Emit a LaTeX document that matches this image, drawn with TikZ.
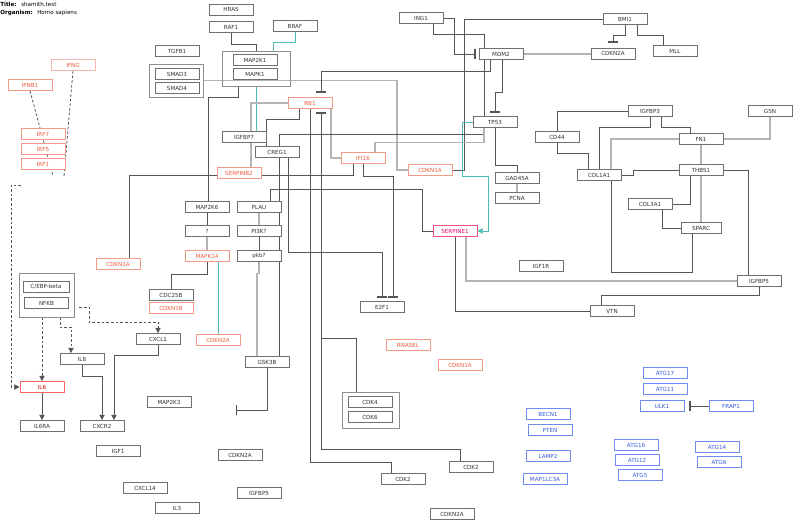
\documentclass[tikz,border=0pt]{standalone}
\usepackage{fontspec}
\setmainfont{DejaVu Sans}
\usetikzlibrary{arrows.meta,calc}
\definecolor{bx}{HTML}{707070}
\definecolor{tx}{HTML}{333333}
\definecolor{rb}{HTML}{F29A88}
\definecolor{rt}{HTML}{EE5C3E}
\definecolor{bb}{HTML}{6F8CF0}
\definecolor{bt}{HTML}{3A5AE0}
\definecolor{dkl}{HTML}{555555}
\definecolor{ltl}{HTML}{B4B4B4}
\definecolor{tl}{HTML}{4DBDB8}
\newcommand{\fsz}{\fontsize{4.2}{5}\selectfont}
\pgfdeclarelayer{back}
\pgfdeclarelayer{bg}
\pgfsetlayers{back,bg,main}
\begin{document}
\begin{tikzpicture}[x=0.75pt,y=-0.75pt,
 nb/.style={draw=bx,fill=white,text=tx,minimum width=33pt,minimum height=8.25pt,inner sep=0pt,font=\fsz,line width=0.6pt},
 nr/.style={nb,draw=rb,text=rt},
 nbl/.style={nb,draw=bb,text=bt},
 grp/.style={draw=bx!80,line width=0.6pt,inner sep=0pt},
 dk/.style={draw=dkl,line width=0.6pt},
 lt/.style={draw=ltl,line width=0.8pt},
 tq/.style={draw=tl,line width=0.7pt},
 dsh/.style={draw=dkl,dash pattern=on 2pt off 1.5pt,line width=0.6pt},
 inh/.style={-{Bar[width=8pt,line width=1pt]}},
 act/.style={-{Triangle[length=4pt,width=4pt]}},
 lbl/.style={inner sep=0pt,font=\fsz,anchor=base west}
]
\begin{pgfonlayer}{back}
\fill[white] (0,0) rectangle (800,528);
\end{pgfonlayer}
\useasboundingbox (0,0) rectangle (800,528);

% title
\node[lbl] (tA) at (0,7) {\bfseries Title:};
\node[lbl] (tB) at (21,7) {shamith.test};
\node[lbl] (tC) at (0,15) {\bfseries Organism:};
\node[lbl] (tD) at (37,15) {Homo sapiens};

% groups
\node[grp,minimum width=51pt,minimum height=26.25pt] (mapgrp) at (256,68.5) {};
\node[grp,minimum width=40.5pt,minimum height=24.75pt] (smadgrp) at (176,80.5) {};
\node[grp,minimum width=41.25pt,minimum height=33pt] (cebpgrp) at (46.5,295) {};
\node[grp,minimum width=42.75pt,minimum height=27pt] (cdkgrp) at (370.5,410) {};

% black nodes
\node[nb] (hras) at (231,9.5) {HRAS};
\node[nb] (rafone) at (231,27) {RAF1};
\node[nb] (braf) at (295,26) {BRAF};
\node[nb] (maptwokone) at (255,60) {MAP2K1};
\node[nb] (mapkone) at (255,74) {MAPK1};
\node[nb] (tgfb) at (177,51) {TGFB1};
\node[nb] (smadthree) at (177,74) {SMAD3};
\node[nb] (smadfour) at (177,88) {SMAD4};
\node[nb] (igfbpseven) at (244,137) {IGFBP7};
\node[nb] (cregone) at (277,152) {CREG1};
\node[nb] (ingone) at (421,18) {ING1};
\node[nb] (mdmtwo) at (501,54) {MDM2};
\node[nb] (tpff) at (495,122) {TP53};
\node[nb] (bmione) at (625,19) {BMI1};
\node[nb] (cdkntwoaA) at (613,53.5) {CDKN2A};
\node[nb] (mll) at (675,51) {MLL};
\node[nb] (cdff) at (557,137) {CD44};
\node[nb] (igfbpthree) at (650,111) {IGFBP3};
\node[nb] (gsn) at (770,111) {GSN};
\node[nb] (fnone) at (701,139) {FN1};
\node[nb] (colonea) at (599,175) {COL1A1};
\node[nb] (thbs) at (701,170) {THBS1};
\node[nb] (gadd) at (517,178) {GAD45A};
\node[nb] (pcna) at (517,198) {PCNA};
\node[nb] (colthree) at (650,204) {COL3A1};
\node[nb,minimum width=30pt] (sparc) at (701,228) {SPARC};
\node[nb] (igfonerA) at (541,266) {IGF1R};
\node[nb] (igfbpfiveA) at (759,281) {IGFBP5};
\node[nb] (vtn) at (612,311) {VTN};
\node[nb] (maptwoksix) at (207,207) {MAP2K6};
\node[nb] (qq) at (207,231) {?};
\node[nb] (plau) at (259,207) {PLAU};
\node[nb] (pithreek) at (259,231) {PI3K?};
\node[nb] (pkb) at (259,256) {pkb?};
\node[nb,minimum width=34.5pt] (cebp) at (46,287) {C/EBP-beta};
\node[nb] (nfkb) at (46.5,303) {NFKB};
\node[nb] (cdctwofive) at (171,295) {CDC25B};
\node[nb] (cxclone) at (158,339) {CXCL1};
\node[nb] (etwofone) at (382,307) {E2F1};
\node[nb] (ileight) at (82,359) {IL8};
\node[nb] (ilsixra) at (42,426) {IL6RA};
\node[nb] (cxcrtwo) at (102,426) {CXCR2};
\node[nb] (maptwokthree) at (169,402) {MAP2K3};
\node[nb] (gskthreeb) at (267,362) {GSK3B};
\node[nb] (igfone) at (118,451) {IGF1};
\node[nb] (cdkntwoaB) at (240,455) {CDKN2A};
\node[nb] (cxclff) at (145,488) {CXCL14};
\node[nb] (igfbpfiveB) at (259,493) {IGFBP5};
\node[nb] (ilthree) at (177,508) {IL3};
\node[nb] (cdkfour) at (370,402) {CDK4};
\node[nb] (cdksix) at (370,417) {CDK6};
\node[nb] (cdktwoA) at (471,467) {CDK2};
\node[nb] (cdktwoB) at (403,479) {CDK2};
\node[nb] (cdkntwoaC) at (452,514) {CDKN2A};

% red nodes
\node[nr,draw=rb!70] (ifng) at (73,65) {IFNG};
\node[nr] (ifnbone) at (30,85) {IFNB1};
\node[nr] (irfseven) at (43,134) {IRF7};
\node[nr] (irffive) at (43,149) {IRF5};
\node[nr] (irfone) at (43,164) {IRF1};
\node[nr] (rbone) at (310,103) {RB1};
\node[nr] (serpinbtwo) at (239,173) {SERPINB2};
\node[nr] (ifisixteen) at (363,158) {IFI16};
\node[nr] (cdknoneaA) at (430,170) {CDKN1A};
\node[nr] (cdknoneaB) at (118,264) {CDKN1A};
\node[nr] (mapkff) at (207,256) {MAPK14};
\node[nr] (cdknoneb) at (171,308) {CDKN1B};
\node[nr] (cdkntwoaR) at (218,340) {CDKN2A};
\node[nr] (rnasel) at (408,345) {RNASEL};
\node[nr] (cdknoneaC) at (460,365) {CDKN1A};
\node[nr,draw=red!60,text=red!85!black] (ilsix) at (42,387) {IL6};
\node[nr,draw=magenta!60!red!70,text=magenta!70!red] (serpineone) at (455,231) {SERPINE1};

% blue nodes
\node[nbl] (atgseventeen) at (665,373) {ATG17};
\node[nbl] (atgeleven) at (665,389) {ATG11};
\node[nbl] (ulkone) at (662,406) {ULK1};
\node[nbl] (frapone) at (731,406) {FRAP1};
\node[nbl] (becnone) at (548,414) {BECN1};
\node[nbl] (pten) at (550,430) {PTEN};
\node[nbl] (lamptwo) at (548,456) {LAMP2};
\node[nbl] (maponelc) at (545,479) {MAP1LC3A};
\node[nbl] (atgsixteen) at (636,445) {ATG16};
\node[nbl] (atgtwelve) at (637,460) {ATG12};
\node[nbl] (atgfive) at (640,475) {ATG5};
\node[nbl] (atgff) at (717,447) {ATG14};
\node[nbl] (atgsix) at (719,462) {ATG6};

\coordinate (dA) at (53,176);
\coordinate (dB) at (64,176);
\coordinate (dC) at (21,185);
\coordinate (gskend) at (236,410);

\begin{pgfonlayer}{bg}
% top area
\draw[dk] (rafone.south) -- ++(0,11.5) -| (mapgrp.north);
\draw[tq] (braf.south) -- ++(0,11) -| ($(mapgrp.north)+(17,0)$);
\draw[lt] (smadgrp.east) -- (397,80.5) |- (cdknoneaA.west);
\draw[dk] ($(mapgrp.south)+(-18,0)$) -- ++(0,11) -| ($(maptwoksix.north)+(1,0)$);
\draw[tq] (mapgrp.south) -- ($(igfbpseven.north)+(12,0)$);
\draw[dk,inh] ($(mdmtwo.south)+(-11,0)$) -- ++(0,11.5) -| ($(rbone.north)+(11,-4.5)$);
\draw[lt] (rbone.west) -| ($(igfbpseven.north)+(7,0)$);
\draw[lt] ($(igfbpseven.south)+(7,0)$) -- ($(serpinbtwo.north)+(12,0)$);
\draw[dk] ($(rbone.south)+(-11,0)$) -- ++(0,10.5) -| ($(cregone.north)+(-11,0)$);
\draw[lt] ($(rbone.south)+(21,0)$) |- (ifisixteen.west);
\draw[dk] (rbone.south) -- ++(0,353.5) -| ($(cdktwoB.north)+(-12,0)$);
\draw[dk,inh] ($(cdktwoA.north)+(-11,0)$) -- ++(0,-11.5) -| ($(rbone.south)+(11,3.5)$);
\draw[dk,inh] ($(cdkgrp.north)+(-14.5,0)$) -- ++(0,-53) -| ($(rbone.south)+(11,3.5)$);
\draw[dk,inh] (ingone.east) -- ++(11,0) |- ($(mdmtwo.west)+(-3,0)$);
\draw[dk] ($(ingone.south)+(12,0)$) -- ++(0,10.5) -| ($(tpff.north)+(-11,0)$);
\draw[dk,inh] ($(mdmtwo.south)+(1,0)$) -- ++(0,32.5) -| ($(tpff.north)+(0,-3.5)$);
\draw[lt] (mdmtwo.east) -- (mdmtwo.east -| cdkntwoaA.west);
\draw[dk] (bmione.west) -- (464,19) |- (cdknoneaA.east);
\draw[dk,inh] (bmione.south) -- ++(0,10.5) -| ($(cdkntwoaA.north)+(0,-5)$);
\draw[dk] ($(bmione.south)+(12,0)$) -- ++(0,10.5) -| ($(mll.north)+(-12,0)$);
\draw[dk] (tpff.south) -- ++(0,37.5) -| (gadd.north);
\draw[lt] (gadd.south) -- (pcna.north);
\draw[tq,act] (tpff.west) -| (462,176) -| ($(serpineone.east)+(11.5,0)$) -- (serpineone.east);
\draw[dk] ($(tpff.south)+(-11,0)$) -- ++(0,6.5) -| ($(gskthreeb.north)+(12,0)$);
\draw[lt] ($(tpff.south)+(-11,0)$) -- ++(0,14.5) -| ($(ifisixteen.north)+(12,0)$);
\draw[dk,inh] (ifisixteen.south) -- ++(0,12.5) -| ($(etwofone.north)+(11,-3.5)$);
\draw[dk,inh] ($(cregone.south)+(11,0)$) -- ++(0,94.5) -| ($(etwofone.north)+(0,-3.5)$);
\draw[dk] ($(ifisixteen.south)+(-10,0)$) -- ++(0,11.5) -| ($(cdknoneaB.north)+(11,0)$);
\draw[dk] (serpineone.west) -| (422,189) -| ($(plau.north)+(11,0)$);
\draw[lt] ($(serpineone.south)+(11,0)$) |- (igfbpfiveA.west);
\draw[dk] (serpineone.south) |- (vtn.west);
\draw[dk] (igfbpfiveA.south) -- ++(0,8.5) -| ($(vtn.north)+(-11,0)$);
\draw[dk] (thbs.east) -| ($(igfbpfiveA.north)+(-11,0)$);
% right cluster
\draw[dk] (cdff.north) |- (igfbpthree.west);
\draw[dk] (cdff.south) -- ++(0,10.5) -| ($(colonea.north)+(-11,0)$);
\draw[dk] (igfbpthree.south) -- ++(0,10.5) -| (colonea.north);
\draw[dk] ($(igfbpthree.south)+(11,0)$) -- ++(0,10.5) -| ($(fnone.north)+(-11,0)$);
\draw[lt] (fnone.west) -| ($(colonea.north)+(12,0)$);
\draw[lt] (fnone.east) -| (gsn.south);
\draw[lt] (fnone.south) -- (thbs.north);
\draw[dk] (thbs.west) -- (633,170) |- (colonea.east);
\draw[dk] ($(thbs.south)+(-11,0)$) |- (colthree.east);
\draw[lt] (thbs.south) -- (sparc.north);
\draw[dk] ($(colthree.south)+(12,0)$) |- (sparc.west);
\draw[dk] ($(sparc.south)+(-9,0)$) -- ++(0,38.5) -| ($(colonea.south)+(12,0)$);
% middle column
\draw[dk] (maptwoksix.south) -- (qq.north);
\draw[lt] (qq.south) -- (mapkff.north);
\draw[dk] (mapkff.south) -- ++(0,12) -| (cdctwofive.north);
\draw[tq] ($(mapkff.south)+(11,0)$) -- (cdkntwoaR.north);
\draw[lt] (plau.south) -- (pithreek.north);
\draw[dk] (pithreek.south) -- (pkb.north);
\draw[lt] (pkb.south) -- ++(0,11.5) -| ($(gskthreeb.north)+(-10,0)$);
\draw[dk,inh] (gskthreeb.south) |- (gskend);
\draw[dk,inh] (frapone.west) -- ($(ulkone.east)+(5,0)$);
% dashed
\draw[dsh] (ifnbone.south) -- (dA);
\draw[dsh] (ifng.south) -- (dB);
\draw[dsh,act] (dC) -- (11,185) |- (ilsix.west);
\draw[dsh,act] ($(cebpgrp.south)+(-4.5,0)$) -- (ilsix.north);
\draw[dsh,act] ($(cebpgrp.south)+(13.5,0)$) -- ++(0,10) -| ($(ileight.north)+(-11,0)$);
\draw[dsh,act] ($(cebpgrp.east)+(5,12)$) -- (89,307) -- (89,322) -| (cxclone.north);
% lower left
\draw[dk,act] (ilsix.south) -- (ilsixra.north);
\draw[dk,act] (ileight.south) -- ++(0,11.5) -| (cxcrtwo.north);
\draw[dk,act] (cxclone.south) -- ++(0,10.5) -| ($(cxcrtwo.north)+(12,0)$);
\end{pgfonlayer}
\end{tikzpicture}
\end{document}
